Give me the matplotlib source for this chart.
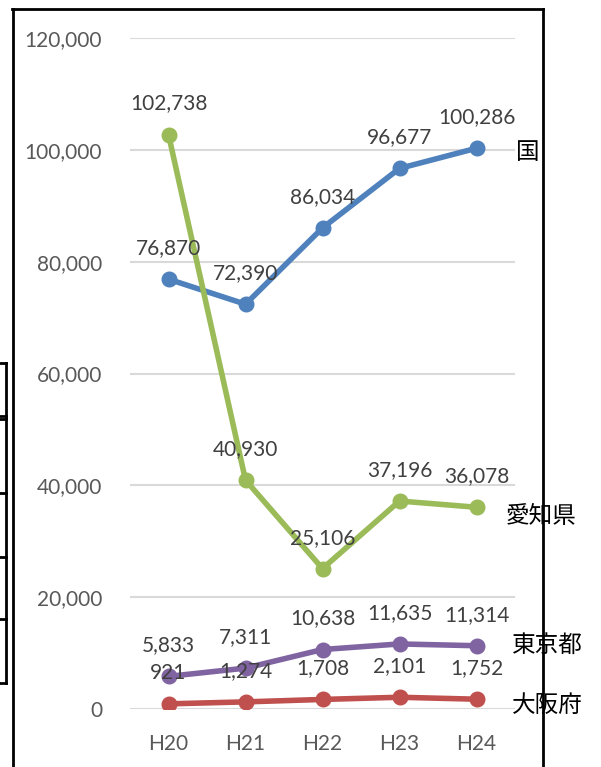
import matplotlib.pyplot as plt
from matplotlib.lines import Line2D

# データ
years = ['H20', 'H21', 'H22', 'H23', 'H24']
kuni = [76870, 72390, 86034, 96677, 100286]
aichi = [102738, 40930, 25106, 37196, 36078]
tokyo = [5833, 7311, 10638, 11635, 11314]
osaka = [921, 1274, 1708, 2101, 1752]
series_names = ['国', '愛知県', '東京都', '大阪府']
series_values = [kuni, aichi, tokyo, osaka]
colors = ['#4F81BD', '#9BBB59', '#8064A2', '#C0504D']
name_offsets = [(39, -4), (29, -9), (35, 0), (35, -6)]  # 右端ラベルの位置 (px)

W, H = 601, 767
fig = plt.figure(figsize=(W / 100, H / 100), dpi=100)
ax = fig.add_axes([130 / W, 1 - 709 / H, 385 / W, 671 / H])

x = list(range(len(years)))
for name, vals, c, off in zip(series_names, series_values, colors, name_offsets):
    ax.plot(x, vals, color=c, linewidth=4, marker='o', markersize=10.5,
            solid_capstyle='round', zorder=3)
    for xi, v in zip(x, vals):
        ax.annotate(f'{v:,}', (xi, v), xytext=(0, 31), textcoords='offset pixels',
                    ha='center', va='center', fontsize=15, color='#404040',
                    family='Lato', zorder=5)
    ax.annotate(name, (x[-1], vals[-1]), xytext=off, textcoords='offset pixels',
                ha='left', va='center', fontsize=17, color='black',
                family=['Noto Sans CJK JP', 'DejaVu Sans'], annotation_clip=False)

ax.set_xlim(-0.5, len(years) - 0.5)
ax.set_ylim(0, 120000)
ax.set_yticks(range(0, 120001, 20000))
ax.set_yticklabels([f'{v:,}' for v in range(0, 120001, 20000)], family='Lato',
                   fontsize=15, color='#595959')
ax.set_xticks(x)
ax.set_xticklabels(years, family='Lato', fontsize=15, color='#595959')
ax.tick_params(length=0, pad=20)
ax.tick_params(axis='x', pad=18)
ax.grid(axis='y', color='#D9D9D9', linewidth=1.5)
ax.set_axisbelow(True)
for s in ax.spines.values():
    s.set_visible(False)

# 枠線
def fline(xs, ys):
    fig.add_artist(Line2D([v / W for v in xs], [1 - v / H for v in ys],
                          color='black', linewidth=2, transform=fig.transFigure))

fline([12, 543], [9, 9])
fline([13, 13], [9, 767])
fline([543, 543], [9, 767])
fline([6, 6], [363, 683])
for yy in [363, 416, 419, 493, 557, 619, 683]:
    fline([0, 6], [yy, yy])

fig.savefig('out.png', dpi=100)
